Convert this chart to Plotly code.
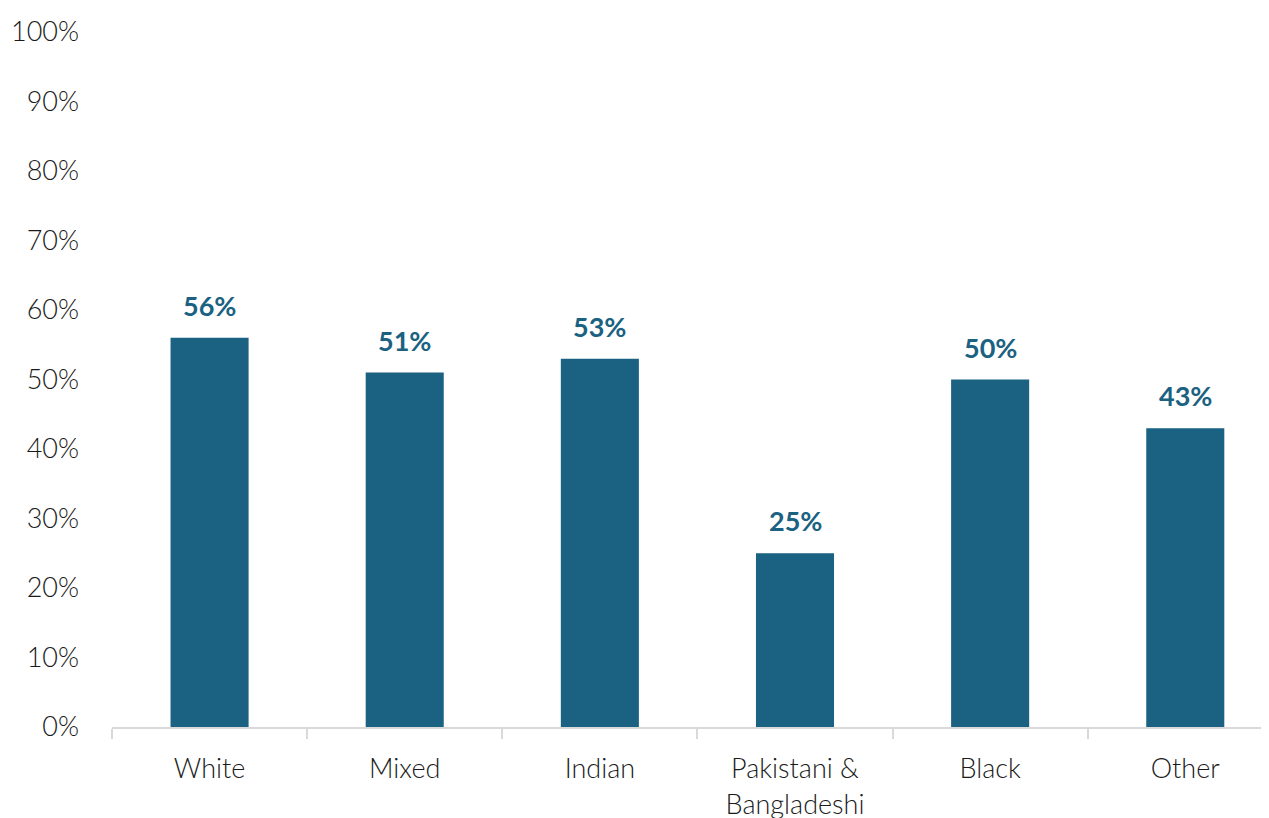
import plotly.graph_objects as go

# Share by ethnic group
groups = ["White", "Mixed", "Indian", "Pakistani &<br>Bangladeshi", "Black", "Other"]
shares = [56, 51, 53, 25, 50, 43]
y_ticks = list(range(0, 101, 10))
y_tick_labels = [f"{v}%" for v in y_ticks]

bar_color = "#1a6182"
font_family = "Lato, 'Open Sans', sans-serif"

fig = go.Figure()
fig.add_trace(
    go.Bar(
        x=groups,
        y=shares,
        marker=dict(color=bar_color, line=dict(width=0)),
        hoverinfo="skip",
    )
)

# value labels above bars
for g, v in zip(groups, shares):
    fig.add_annotation(
        x=g, y=v, text=f"<b>{v}%</b>", showarrow=False,
        yanchor="bottom", yshift=14,
        font=dict(family=font_family, size=27, color=bar_color),
    )

fig.update_xaxes(
    type="category",
    range=[-0.5, 5.47],
    showline=True, linecolor="#d9d9d9", linewidth=2,
    ticks="outside", tickson="boundaries", ticklen=10, tickcolor="#d9d9d9", tickwidth=2,
    showgrid=False, zeroline=False, automargin=False,
    ticklabelstandoff=17,
    tickfont=dict(family=font_family, size=27, color="#1a1a1a", weight=300),
    fixedrange=True,
)
fig.update_yaxes(
    range=[0, 100],
    tickmode="array", tickvals=y_ticks, ticktext=y_tick_labels,
    showgrid=False, zeroline=False, showline=False, automargin=False,
    ticks="", ticklabelstandoff=32,
    tickfont=dict(family=font_family, size=27, color="#1a1a1a", weight=300),
)

# page body adds an 8px offset, so margins are trimmed to match
fig.update_layout(
    width=1269, height=818,
    margin=dict(l=104, r=0, t=24, b=99),
    bargap=0.6,
    plot_bgcolor="white", paper_bgcolor="white",
    showlegend=False,
)

fig.write_html("out.html")
